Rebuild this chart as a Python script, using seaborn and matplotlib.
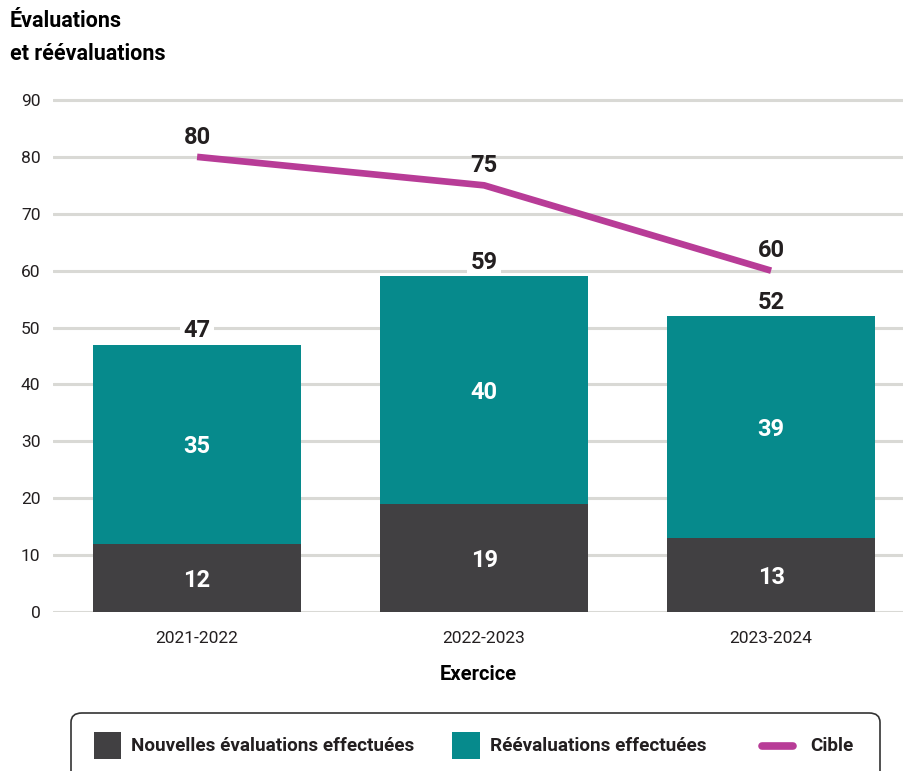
import numpy as np
import pandas as pd
import matplotlib
matplotlib.use("Agg")
import matplotlib.pyplot as plt
from matplotlib.patches import FancyBboxPatch, Rectangle
from matplotlib.lines import Line2D
import seaborn as sns

# Fiscal years and counts
exercices = ["2021-2022", "2022-2023", "2023-2024"]
nouvelles = [12, 19, 13]
reevaluations = [35, 40, 39]
cible = [80, 75, 60]
serie_labels = ["Nouvelles évaluations effectuées", "Réévaluations effectuées", "Cible"]
yticks = [0, 10, 20, 30, 40, 50, 60, 70, 80, 90]

DARK = "#414042"
TEAL = "#068a8c"
MAGENTA = "#b83c97"
GRID = "#d9d9d5"
TEXT = "#231f20"

sns.set_theme(style="white")
plt.rcParams["font.family"] = ["Roboto", "DejaVu Sans"]
plt.rcParams["font.stretch"] = "condensed"

W, H = 904, 771
fig = plt.figure(figsize=(W / 100, H / 100), dpi=100)


def fx(px):
    return px / W


def fy(py):
    return 1 - py / H


ppu = 512 / 90.0
ax = fig.add_axes([fx(53), fy(612), 1 - fx(53), (612 - (100 - ppu)) / H])

df = pd.DataFrame({"exercice": exercices, "nouvelles": nouvelles,
                   "reevaluations": reevaluations, "cible": cible})
df["total"] = df["nouvelles"] + df["reevaluations"]

# Stacked bars: full total in teal, new evaluations drawn over in dark grey
sns.barplot(data=df, x="exercice", y="total", color=TEAL, saturation=1,
            width=0.725, ax=ax, zorder=2, edgecolor="none", linewidth=0)
sns.barplot(data=df, x="exercice", y="nouvelles", color=DARK, saturation=1,
            width=0.725, ax=ax, zorder=3, edgecolor="none", linewidth=0)

# Target line
sns.pointplot(data=df, x="exercice", y="cible", color=MAGENTA, markers="",
              linestyles="-", errorbar=None, ax=ax, zorder=4)
for ln in ax.lines:
    ln.set_linewidth(4.8)
    ln.set_solid_capstyle("butt")

ax.set_xlim(-0.502, 2.463)
ax.set_ylim(0, 91)
ax.set_yticks(yticks)
ax.yaxis.grid(True, color=GRID, linewidth=2.2, zorder=0)
ax.set_axisbelow(True)
for s in ax.spines.values():
    s.set_visible(False)
ax.tick_params(axis="both", length=0, labelsize=12.5, colors=TEXT)
ax.tick_params(axis="y", pad=9)
ax.tick_params(axis="x", pad=14)
ax.set_xlabel("Exercice", fontsize=14.5, fontweight="bold", color="black", labelpad=13)
ax.set_ylabel("")

lbl = dict(ha="center", va="center_baseline", fontsize=17, fontweight="bold")
for i, row in df.iterrows():
    ax.text(i, row["nouvelles"] / 2, f"{row['nouvelles']}", color="white", zorder=6, **lbl)
    ax.text(i, row["nouvelles"] + row["reevaluations"] / 2, f"{row['reevaluations']}",
            color="white", zorder=6, **lbl)
    # total label sits on a white patch that masks the gridline but stays under the bars
    ax.annotate(f"{row['total']}", (i, row["total"]), xytext=(0, 12),
                textcoords="offset points", color=TEXT, zorder=1.5,
                bbox=dict(boxstyle="square,pad=0.15", fc="white", ec="none"), **lbl)
    ax.annotate(f"{row['cible']}", (i, row["cible"]), xytext=(0, 16),
                textcoords="offset points", color=TEXT, zorder=6, **lbl)

# Title (y-axis caption)
fig.text(fx(10), fy(10), "Évaluations\net réévaluations", ha="left", va="top",
         fontsize=15.5, fontweight="bold", color="black", linespacing=1.65)

# Legend box
box = FancyBboxPatch((fx(71), fy(800)), fx(880 - 71), (800 - 713) / H,
                     boxstyle="round,pad=0,rounding_size=0.012",
                     transform=fig.transFigure, fc="white", ec="#333333", lw=1.2)
fig.patches.append(box)

ly = fy(746)
fig.patches.append(Rectangle((fx(94), fy(759)), fx(27), 27 / H,
                             transform=fig.transFigure, fc=DARK, ec="none"))
fig.text(fx(131), ly, serie_labels[0], ha="left", va="center", fontsize=13.6,
         fontweight="bold", color=TEXT)
fig.patches.append(Rectangle((fx(452), fy(759)), fx(28), 27 / H,
                             transform=fig.transFigure, fc=TEAL, ec="none"))
fig.text(fx(490), ly, serie_labels[1], ha="left", va="center", fontsize=13.6,
         fontweight="bold", color=TEXT)
fig.lines.append(Line2D([fx(762), fx(793)], [ly, ly], transform=fig.transFigure,
                        color=MAGENTA, lw=5.5, solid_capstyle="round"))
fig.text(fx(810), ly, serie_labels[2], ha="left", va="center", fontsize=13.6,
         fontweight="bold", color=TEXT)

fig.savefig("out.png", dpi=100)
